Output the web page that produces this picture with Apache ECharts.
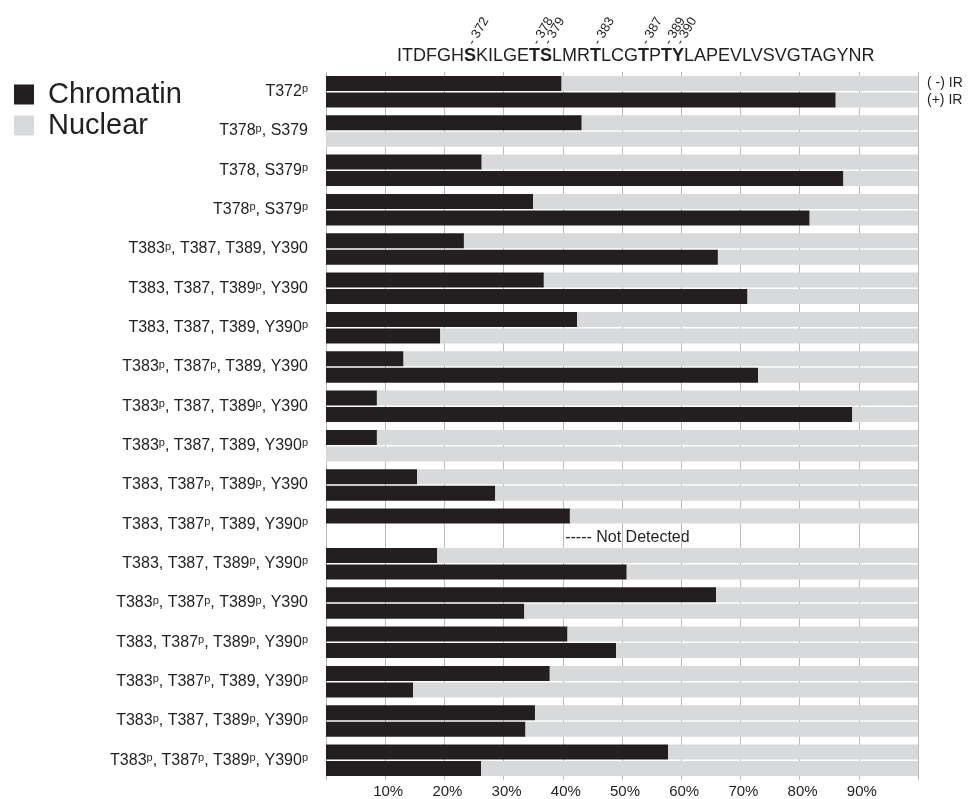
<!DOCTYPE html>
<html>
<head>
<meta charset="utf-8">
<script src="https://cdn.jsdelivr.net/npm/echarts@6/dist/echarts.min.js"></script>
<style>
  html, body { margin: 0; padding: 0; background: #ffffff; }
  #chart { width: 968px; height: 799px; }
</style>
</head>
<body>
<div id="chart"></div>
<script>
// Phospho-isoforms of the peptide; "^p" marks a phosphorylated residue
const categories = [
  'T372^p',
  'T378^p, S379',
  'T378, S379^p',
  'T378^p, S379^p',
  'T383^p, T387, T389, Y390',
  'T383, T387, T389^p, Y390',
  'T383, T387, T389, Y390^p',
  'T383^p, T387^p, T389, Y390',
  'T383^p, T387, T389^p, Y390',
  'T383^p, T387, T389, Y390^p',
  'T383, T387^p, T389^p, Y390',
  'T383, T387^p, T389, Y390^p',
  'T383, T387, T389^p, Y390^p',
  'T383^p, T387^p, T389^p, Y390',
  'T383, T387^p, T389^p, Y390^p',
  'T383^p, T387^p, T389, Y390^p',
  'T383^p, T387, T389^p, Y390^p',
  'T383^p, T387^p, T389^p, Y390^p'
];

// Percent of signal in each fraction, without (-) and with (+) IR; null = not detected
const chromatinMinusIR = [39.8, 43.2, 26.3, 35.0, 23.3, 36.8, 42.4, 13.1, 8.6, 8.6, 15.4, 41.2, 18.8, 65.9, 40.8, 37.8, 35.3, 57.8];
const nuclearMinusIR   = [60.2, 56.8, 73.7, 65.0, 76.7, 63.2, 57.6, 86.9, 91.4, 91.4, 84.6, 58.8, 81.2, 34.1, 59.2, 62.2, 64.7, 42.2];
const chromatinPlusIR  = [86.1, 0, 87.4, 81.7, 66.2, 71.2, 19.3, 73.0, 88.9, 0, 28.6, null, 50.8, 33.5, 49.0, 14.7, 33.7, 26.2];
const nuclearPlusIR    = [13.9, 100, 12.6, 18.3, 33.8, 28.8, 80.7, 27.0, 11.1, 100, 71.4, null, 49.2, 66.5, 51.0, 85.3, 66.3, 73.8];

const fractionNames = ['Chromatin', 'Nuclear'];
const irLabels = ['( -) IR', '(+) IR'];
const notDetectedText = '----- Not Detected';

// Peptide sequence with the numbered phosphosites
const peptide = 'ITDFGHSKILGETSLMRTLCGTPTYLAPEVLVSVGTAGYNR';
const firstResidueNumber = 366;
const siteNumbers = [372, 378, 379, 383, 387, 389, 390];

const tickValues = [10, 20, 30, 40, 50, 60, 70, 80, 90];

const FONT = '"Liberation Sans", Arial, Helvetica, sans-serif';
const DARK = '#231f20';
const GREY = '#d8d9da';
const BAR_W = 15;

// --- peptide header: rich text with bold sites, plus rotated site numbers ---
const seqFontSize = 18;
const seqX = 397, seqY = 56;
const siteIdx = siteNumbers.map(n => n - firstResidueNumber);
const measureCtx = document.createElement('canvas').getContext('2d');
function textWidth(s, bold) {
  measureCtx.font = (bold ? 'bold ' : 'normal ') + seqFontSize + 'px ' + FONT;
  return measureCtx.measureText(s).width;
}
let richSeq = '';
let run = '', runBold = null;
const letterCenters = [];
let cursor = 0;
for (let i = 0; i < peptide.length; i++) {
  const bold = siteIdx.indexOf(i) >= 0;
  const w = textWidth(peptide[i], bold);
  letterCenters.push(cursor + w / 2);
  cursor += w;
  if (runBold !== null && bold !== runBold) {
    richSeq += runBold ? '{b|' + run + '}' : run;
    run = '';
  }
  run += peptide[i];
  runBold = bold;
}
richSeq += runBold ? '{b|' + run + '}' : run;

const headerGraphics = [{
  type: 'text',
  x: seqX, y: seqY,
  style: {
    text: richSeq,
    font: 'normal ' + seqFontSize + 'px ' + FONT,
    fill: DARK,
    verticalAlign: 'middle',
    rich: { b: { fontWeight: 'bold', fontSize: seqFontSize, fontFamily: FONT, fill: DARK } }
  }
}];
siteNumbers.forEach((num, k) => {
  headerGraphics.push({
    type: 'text',
    x: seqX + letterCenters[siteIdx[k]] + 1,
    y: seqY - 12,
    rotation: Math.PI / 3,
    style: {
      text: '- ' + num,
      font: 'normal 13px ' + FONT,
      fill: DARK,
      align: 'left',
      verticalAlign: 'middle'
    }
  });
});

function irLabelled(arr, text) {
  return arr.map((v, i) => i === 0 ? {
    value: v,
    label: { show: true, position: 'right', distance: 9, formatter: text, fontSize: 14, fontFamily: FONT, color: DARK }
  } : v);
}

const chart = echarts.init(document.getElementById('chart'), null, { renderer: 'canvas' });
chart.setOption({
  animation: false,
  backgroundColor: '#ffffff',
  textStyle: { fontFamily: FONT },
  legend: {
    data: fractionNames,
    orient: 'vertical',
    left: 14, top: 80,
    padding: 0,
    icon: 'rect',
    itemWidth: 20, itemHeight: 20, itemGap: 2,
    textStyle: { fontSize: 29, color: DARK, fontFamily: FONT, padding: [0, 0, 0, 9] }
  },
  grid: { left: 326, right: 50, top: 72, bottom: 19, containLabel: false },
  xAxis: {
    type: 'value', min: 0, max: 100, interval: 10,
    axisLine: { show: false }, axisTick: { show: false },
    splitLine: { show: true, lineStyle: { color: '#bcbcbc', width: 1 } },
    axisLabel: {
      margin: 4, fontSize: 15, color: DARK, fontFamily: FONT,
      padding: [0, 0, 0, 6],
      formatter: v => tickValues.indexOf(v) >= 0 ? v + '%' : ''
    }
  },
  yAxis: {
    type: 'category', data: categories, inverse: true,
    axisLine: { show: false }, axisTick: { show: false }, splitLine: { show: false },
    axisLabel: {
      margin: 18, fontSize: 16, color: DARK, fontFamily: FONT,
      formatter: v => v.replace(/\^p/g, '{s|p}'),
      rich: { s: { fontSize: 11, fontFamily: FONT, color: DARK, verticalAlign: 'top' } }
    }
  },
  series: [
    { name: fractionNames[0], type: 'bar', stack: 'minusIR', data: chromatinMinusIR,
      barWidth: BAR_W, barGap: '10%', itemStyle: { color: DARK } },
    { name: fractionNames[1], type: 'bar', stack: 'minusIR', data: irLabelled(nuclearMinusIR, irLabels[0]),
      barWidth: BAR_W, barGap: '10%', itemStyle: { color: GREY } },
    { name: fractionNames[0], type: 'bar', stack: 'plusIR', data: chromatinPlusIR,
      barWidth: BAR_W, barGap: '10%', itemStyle: { color: DARK } },
    { name: fractionNames[1], type: 'bar', stack: 'plusIR', data: irLabelled(nuclearPlusIR, irLabels[1]),
      barWidth: BAR_W, barGap: '10%', itemStyle: { color: GREY } }
  ],
  graphic: headerGraphics
});

// Note for rows where the (+) IR measurement is missing
const extra = [];
chromatinPlusIR.forEach((v, i) => {
  if (v === null) {
    const p = chart.convertToPixel({ xAxisIndex: 0, yAxisIndex: 0 }, [40.4, i]);
    extra.push({
      type: 'text', x: p[0], y: p[1] + BAR_W * 0.55 + 5,
      style: { text: notDetectedText, font: 'normal 16px ' + FONT, fill: DARK, verticalAlign: 'middle' }
    });
  }
});
chart.setOption({ graphic: headerGraphics.concat(extra) });
</script>
</body>
</html>
